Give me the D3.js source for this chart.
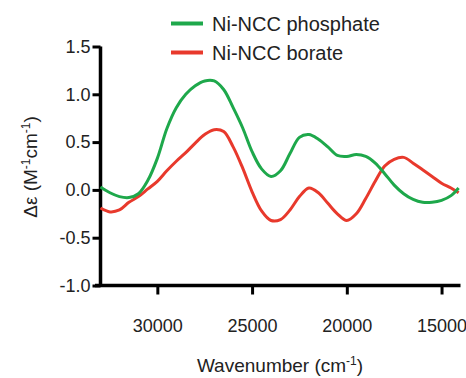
<!DOCTYPE html>
<html>
<head>
<meta charset="utf-8">
<script src="https://cdn.jsdelivr.net/npm/d3@7"></script>
<style>
  body { margin: 0; background: #fff; }
  svg text { font-family: "Liberation Sans", Arial, sans-serif; fill: #222; }
</style>
</head>
<body>
<svg id="chart" width="466" height="378"></svg>
<script>
// wavenumber grid (cm-1), every 500
var wavenumbers = [33000, 32500, 32000, 31500, 31000, 30500, 30000, 29500, 29000, 28500,
  28000, 27500, 27000, 26500, 26000, 25500, 25000, 24500, 24000, 23500,
  23000, 22500, 22000, 21500, 21000, 20500, 20000, 19500, 19000, 18500,
  18000, 17500, 17000, 16500, 16000, 15500, 15000, 14500, 14100];

var phosphate = [0.03, -0.03, -0.07, -0.08, -0.04, 0.10, 0.33, 0.64, 0.86, 1.00,
  1.09, 1.14, 1.14, 1.05, 0.86, 0.65, 0.40, 0.22, 0.14, 0.20,
  0.38, 0.55, 0.58, 0.53, 0.45, 0.36, 0.35, 0.37, 0.35, 0.28,
  0.17, 0.05, -0.04, -0.10, -0.13, -0.13, -0.11, -0.06, 0.02];

var borate = [-0.19, -0.23, -0.21, -0.13, -0.07, 0.01, 0.09, 0.20, 0.30, 0.39,
  0.49, 0.58, 0.63, 0.61, 0.45, 0.23, -0.02, -0.22, -0.32, -0.31,
  -0.21, -0.07, 0.02, -0.03, -0.14, -0.25, -0.32, -0.25, -0.09, 0.09,
  0.25, 0.32, 0.34, 0.28, 0.21, 0.14, 0.07, 0.02, -0.03];

var xTicks = [30000, 25000, 20000, 15000];
var yTicks = [-1.0, -0.5, 0.0, 0.5, 1.0, 1.5];

var series = [
  {name: "Ni-NCC phosphate", values: phosphate, color: "#1ea84b"},
  {name: "Ni-NCC borate", values: borate, color: "#e8392c"}
];

var svg = d3.select("#chart");

var x = d3.scaleLinear().domain([33000, 14000]).range([100.5, 460.5]);
var y = d3.scaleLinear().domain([-1.0, 1.5]).range([285.5, 46.5]);

// axes
var xAxis = svg.append("g")
  .attr("transform", "translate(0,285.5)")
  .call(d3.axisBottom(x).tickValues(xTicks).tickSize(9).tickPadding(25).tickFormat(d3.format("d")));

var yAxis = svg.append("g")
  .attr("transform", "translate(100.5,0)")
  .call(d3.axisLeft(y).tickValues(yTicks).tickSize(8).tickPadding(2)
    .tickFormat(function(d) { return d.toFixed(1); }));

[xAxis, yAxis].forEach(function(ax) {
  ax.select(".domain").attr("stroke", "#000").attr("stroke-width", 3.5);
  ax.selectAll(".tick line").attr("stroke", "#000").attr("stroke-width", 3);
  ax.selectAll(".tick text").style("font-size", "18px").attr("fill", "#222")
    .style("font-family", "'Liberation Sans', Arial, sans-serif");
});
xAxis.select(".domain").attr("d", "M95,0H460.5");
yAxis.select(".domain").attr("d", "M0,46.5V287");

// curves
var line = d3.line()
  .x(function(d, i) { return x(wavenumbers[i]); })
  .y(function(d) { return y(d); })
  .curve(d3.curveCatmullRom);

svg.append("g").selectAll("path")
  .data(series.slice().reverse())
  .enter().append("path")
    .attr("d", function(d) { return line(d.values); })
    .attr("fill", "none")
    .attr("stroke", function(d) { return d.color; })
    .attr("stroke-width", 3)
    .attr("stroke-linejoin", "round");

// legend
var legend = svg.append("g").selectAll("g")
  .data(series)
  .enter().append("g")
    .attr("transform", function(d, i) { return "translate(0," + (23.5 + i * 29) + ")"; });

legend.append("line")
  .attr("x1", 171).attr("x2", 203)
  .attr("stroke", function(d) { return d.color; })
  .attr("stroke-width", 4);

legend.append("text")
  .attr("x", 212).attr("y", 7.5)
  .style("font-size", "20px")
  .text(function(d) { return d.name; });

// axis titles
var xTitle = svg.append("text")
  .attr("x", 280).attr("y", 372)
  .attr("text-anchor", "middle")
  .style("font-size", "19px");
xTitle.append("tspan").text("Wavenumber (cm");
xTitle.append("tspan").attr("dy", -7).style("font-size", "12px").text("-1");
xTitle.append("tspan").attr("dy", 7).text(")");

var yTitle = svg.append("text")
  .attr("transform", "translate(37,167) rotate(-90)")
  .attr("text-anchor", "middle")
  .style("font-size", "19px");
yTitle.append("tspan").text("\u0394\u03b5 (M");
yTitle.append("tspan").attr("dy", -7).style("font-size", "12px").text("-1");
yTitle.append("tspan").attr("dy", 7).text("cm");
yTitle.append("tspan").attr("dy", -7).style("font-size", "12px").text("-1");
yTitle.append("tspan").attr("dy", 7).text(")");
</script>
</body>
</html>
